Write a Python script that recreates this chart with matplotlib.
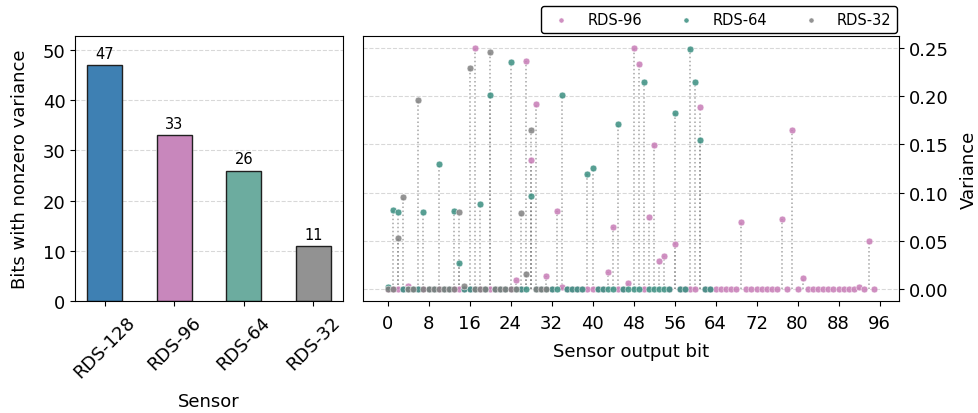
import matplotlib
matplotlib.use('Agg')
import matplotlib.pyplot as plt
import numpy as np

# left panel: number of bits with nonzero variance
sensors = ['RDS-128', 'RDS-96', 'RDS-64', 'RDS-32']
nonzero_bits = [47, 33, 26, 11]
bar_colors = ['#3e80b3', '#c887bc', '#6cac9f', '#929292']

# right panel: per-bit variance, only nonzero bits listed (rest are 0)
rds96_n = 96
rds96_bits = [4, 17, 25, 27, 28, 29, 31, 33, 34, 43, 44, 47, 48, 49, 51, 52,
              53, 54, 56, 61, 69, 77, 79, 81, 92, 94]
rds96_vals = [0.003, 0.250, 0.0096, 0.236, 0.1335, 0.192, 0.014, 0.081, 0.002,
              0.018, 0.0645, 0.0065, 0.250, 0.233, 0.075, 0.149, 0.0294, 0.0345,
              0.047, 0.1885, 0.0693, 0.0727, 0.165, 0.0113, 0.002, 0.050]

rds64_n = 64
rds64_bits = [0, 1, 2, 7, 10, 13, 14, 18, 20, 24, 28, 34, 39, 40, 45, 50, 56,
              59, 60, 61]
rds64_vals = [0.002, 0.082, 0.080, 0.080, 0.130, 0.081, 0.0266, 0.088, 0.201,
              0.235, 0.0967, 0.2015, 0.1195, 0.126, 0.171, 0.2145, 0.183, 0.249,
              0.215, 0.155]

rds32_n = 32
rds32_bits = [2, 3, 6, 14, 15, 16, 20, 26, 27, 28]
rds32_vals = [0.0526, 0.096, 0.196, 0.080, 0.003, 0.2295, 0.246, 0.079, 0.016,
              0.1646]

series = [
    ('RDS-96', rds96_n, rds96_bits, rds96_vals, '#c77cb6'),
    ('RDS-64', rds64_n, rds64_bits, rds64_vals, '#3a8e80'),
    ('RDS-32', rds32_n, rds32_bits, rds32_vals, '#808080'),
]

fig = plt.figure(figsize=(9.79, 4.14), dpi=100)
ax1 = fig.add_axes([0.0767, 0.27, 0.2737, 0.641])
ax2 = fig.add_axes([0.371, 0.27, 0.547, 0.641])

# bar chart
x = np.arange(len(sensors))
bars = ax1.bar(x, nonzero_bits, width=0.5, color=bar_colors,
               edgecolor='#202020', linewidth=1)
for b, v in zip(bars, nonzero_bits):
    ax1.annotate(str(v), (b.get_x() + b.get_width() / 2, v),
                 xytext=(0, 3), textcoords='offset points',
                 ha='center', va='bottom', fontsize=10.5)
ax1.set_xticks(x)
ax1.set_xticklabels(sensors, rotation=45, fontsize=13)
ax1.tick_params(axis='y', labelsize=13)
ax1.tick_params(axis='x', pad=5)
ax1.set_ylim(0, 52.8)
ax1.set_xlabel('Sensor', fontsize=13, labelpad=8)
ax1.set_ylabel('Bits with nonzero variance', fontsize=13, labelpad=10)
ax1.yaxis.grid(True, linestyle='--', color='gray', alpha=0.3)
ax1.set_axisbelow(True)

# variance per bit
for label, n, bits, vals, col in series:
    var = np.zeros(n)
    var[bits] = vals
    idx = np.arange(n)
    ax2.vlines(idx, 0, var, colors='gray', linestyles=':', linewidth=1.1, alpha=0.7)
    ax2.scatter(idx, var, s=24, color=col, edgecolor='white', linewidth=0.4,
                alpha=0.85, label=label, zorder=3)

ax2.set_xticks(np.arange(0, 97, 8))
ax2.yaxis.tick_right()
ax2.yaxis.set_label_position('right')
ax2.set_yticks(np.arange(0, 0.26, 0.05))
ax2.yaxis.set_major_formatter(plt.FormatStrFormatter('%.2f'))
ax2.tick_params(labelsize=13)
ax2.tick_params(axis='x', pad=6)
ax2.set_xlabel('Sensor output bit', fontsize=13, labelpad=7)
ax2.set_ylabel('Variance', fontsize=13, labelpad=8)
ax2.yaxis.grid(True, linestyle='--', color='gray', alpha=0.3)
ax2.set_axisbelow(True)
ax2.legend(loc='lower right', bbox_to_anchor=(1.003, 1.0), ncol=3,
           fontsize=10.5, markerscale=0.75, edgecolor='black',
           borderaxespad=0.2, handletextpad=0.8, columnspacing=2.0,
           framealpha=1, fancybox=True)

fig.savefig('out.png', dpi=100)
